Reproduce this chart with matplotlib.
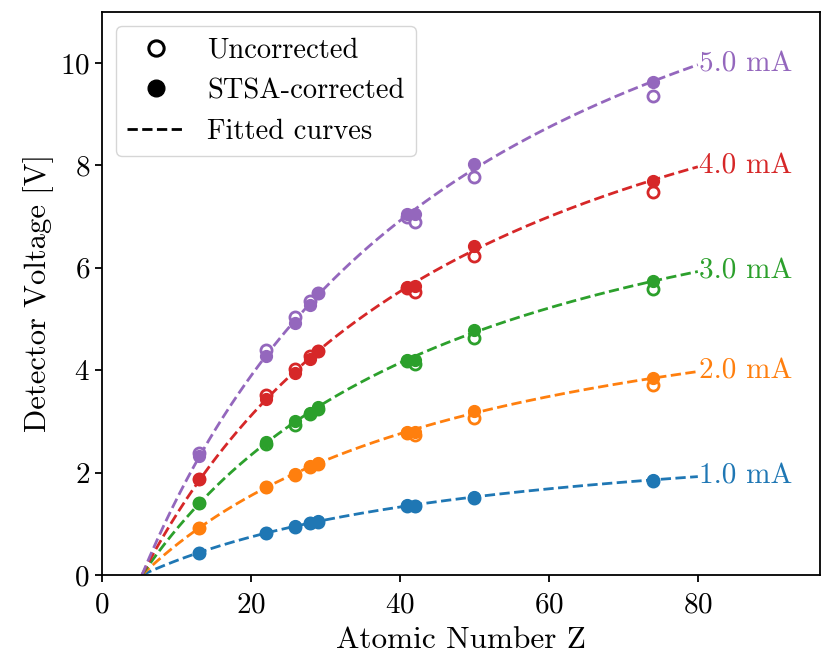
import numpy as np
import matplotlib
matplotlib.use("Agg")
import matplotlib.pyplot as plt
from matplotlib.lines import Line2D

plt.rcParams['font.family'] = 'serif'
plt.rcParams['font.serif'] = ['cmr10', 'DejaVu Serif']
plt.rcParams['mathtext.fontset'] = 'cm'
plt.rcParams['axes.formatter.use_mathtext'] = True
plt.rcParams['font.size'] = 21

# atomic numbers of the targets
Z = [13, 22, 26, 28, 29, 41, 42, 50, 74]
currents = [1.0, 2.0, 3.0, 4.0, 5.0]
colors = ['#1f77b4', '#ff7f0e', '#2ca02c', '#d62728', '#9467bd']

# uncorrected detector voltages [V]
raw_1mA = [0.43, 0.82, 0.94, 1.01, 1.04, 1.35, 1.34, 1.50, 1.84]
raw_2mA = [0.92, 1.72, 1.96, 2.10, 2.16, 2.78, 2.73, 3.07, 3.72]
raw_3mA = [1.40, 2.55, 2.93, 3.15, 3.25, 4.18, 4.12, 4.62, 5.58]
raw_4mA = [1.88, 3.52, 4.02, 4.27, 4.38, 5.60, 5.53, 6.23, 7.48]
raw_5mA = [2.38, 4.40, 5.03, 5.35, 5.50, 7.00, 6.90, 7.77, 9.35]

# STSA-corrected detector voltages [V]
cor_1mA = [0.43, 0.82, 0.95, 1.02, 1.05, 1.36, 1.35, 1.53, 1.86]
cor_2mA = [0.92, 1.72, 1.98, 2.12, 2.18, 2.80, 2.80, 3.20, 3.84]
cor_3mA = [1.40, 2.60, 3.00, 3.17, 3.28, 4.20, 4.20, 4.78, 5.75]
cor_4mA = [1.88, 3.43, 3.95, 4.22, 4.38, 5.63, 5.65, 6.42, 7.70]
cor_5mA = [2.33, 4.28, 4.93, 5.27, 5.50, 7.05, 7.05, 8.03, 9.62]

raw = [raw_1mA, raw_2mA, raw_3mA, raw_4mA, raw_5mA]
cor = [cor_1mA, cor_2mA, cor_3mA, cor_4mA, cor_5mA]

Z0 = 5.4  # onset of the fitted curves


def fit_curve(z, y, z0):
    # V = A * u / (1 + b u), u = Z - Z0; brute force over b, A by least squares
    u = np.asarray(z, float) - z0
    y = np.asarray(y, float)
    best = None
    for b in np.linspace(0.0, 0.2, 801):
        f = u / (1 + b * u)
        A = np.sum(f * y) / np.sum(f * f)
        sse = np.sum((A * f - y) ** 2)
        if best is None or sse < best[0]:
            best = (sse, A, b)
    return best[1:]


fig = plt.figure(figsize=(8.22, 6.57), dpi=100)
ax = fig.add_axes([0.1237, 0.1248, 0.8739, 0.8574])

for I, c, yr, yc in zip(currents, colors, raw, cor):
    A, b = fit_curve(Z, yc, Z0)
    zz = np.linspace(Z0, 80, 300)
    uu = zz - Z0
    vv = A * uu / (1 + b * uu)
    ax.plot(zz, vv, '--', color=c, lw=2, zorder=2)
    ax.plot(Z, yr, 'o', mfc='white', mec=c, mew=2, ms=8, ls='none', zorder=3)
    ax.plot(Z, yc, 'o', color=c, ms=8.5, ls='none', zorder=4)
    ax.text(80.2, vv[-1], f'{I:.1f} mA', color=c, ha='left', va='center',
            fontsize=21)

ax.set_xlim(0, 96.4)
ax.set_ylim(0, 11)
ax.set_xticks([0, 20, 40, 60, 80])
ax.set_yticks([0, 2, 4, 6, 8, 10])
for s in ax.spines.values():
    s.set_linewidth(1.3)
ax.tick_params(width=1.3, length=5, labelsize=21)
ax.tick_params(axis='x', pad=7)
ax.set_xlabel('Atomic Number Z', fontsize=22.5, labelpad=6)
ax.set_ylabel('Detector Voltage [V]', fontsize=22)

handles = [
    Line2D([], [], marker='o', ls='none', mfc='white', mec='black', mew=2.2, ms=11),
    Line2D([], [], marker='o', ls='none', color='black', ms=12),
    Line2D([], [], ls='--', color='black', lw=2),
]
ax.legend(handles, ['Uncorrected', 'STSA-corrected', 'Fitted curves'],
          loc='upper left', fontsize=20.5)

fig.savefig('out.png', dpi=100)
